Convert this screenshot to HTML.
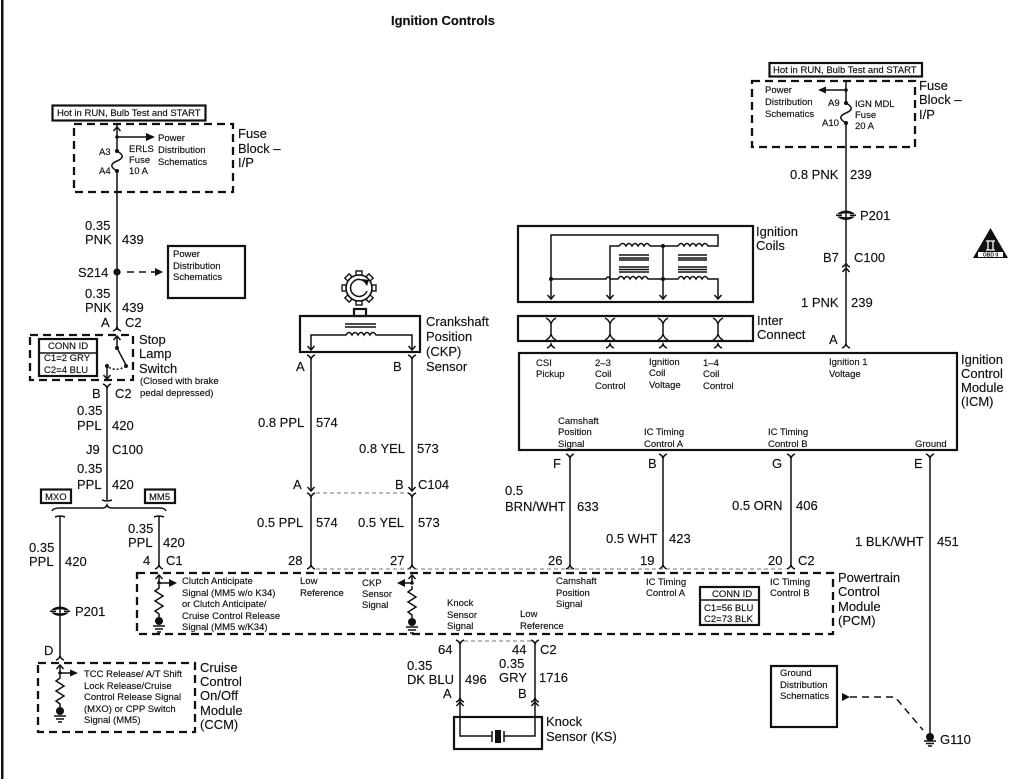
<!DOCTYPE html>
<html><head><meta charset="utf-8"><style>
html,body{margin:0;padding:0;background:#fff}
svg{display:block;filter:blur(.35px)}
text{font-family:"Liberation Sans",sans-serif;fill:#111;stroke:#111;stroke-width:.15px;font-size:13px}
.s text,text.s{font-size:9.5px}
.w{fill:none;stroke:#111;stroke-width:1.5}
.d{fill:none;stroke:#111;stroke-width:2.3;stroke-dasharray:8 5}
.g{fill:none;stroke:#777;stroke-width:1;stroke-dasharray:4 3}
.b{fill:none;stroke:#111;stroke-width:2.2}
</style></head><body>
<svg width="1024" height="779" viewBox="0 0 1024 779" xmlns="http://www.w3.org/2000/svg">
<defs>
<path id="up" class="w" d="M-4,2 Q-1,1 0,-2 Q1,1 4,2"/>
<path id="dn" class="w" d="M-4,-2 Q-1,-1 0,2 Q1,-1 4,-2"/>
<path id="ad" class="w" d="M-3.5,-4 L0,0 L3.5,-4"/>
<path id="au" class="w" d="M-3.5,4 L0,0 L3.5,4"/>
<g id="res"><path class="w" d="M0,0 L0,3 L-4,6 L4,11 L-4,16 L4,21 L-4,26 L0,29 L0,32"/><circle cx="0" cy="36" r="4" fill="#111"/><path class="w" d="M-6,41 H6 M-4,44 H4 M-2,47 H2"/></g>
<g id="p201"><path d="M-9,-1 Q-5,-4.5 0,-4.5 Q5,-4.5 9,-1 L5,-1 Q0,-2.5 -5,-1 Z M-9,1.5 Q-5,5 0,5 Q5,5 9,1.5 L5,1.5 Q0,3 -5,1.5 Z" fill="#111"/><path d="M-10,0.3 H-4 M4,0.3 H10" class="w"/></g>
<path id="fuse" class="w" d="M0,0 C7,4 7,7 0,10 C-7,13 -7,16 0,20"/>
</defs>
<rect x="1" y="0" width="2.5" height="779" fill="#111"/>
<text x="391" y="25" font-weight="bold" style="font-size:13px">Ignition Controls</text>

<!-- left fuse block -->
<rect x="52.5" y="105.5" width="153" height="15" class="b"/>
<text class="s" x="57" y="116">Hot in RUN, Bulb Test and START</text>
<path class="d" d="M74,124 H233 V192 H74 Z"/>
<path class="w" d="M117,125 V150 M117,171 V330"/>
<use href="#au" x="117" y="127"/>
<path class="w" d="M117,137 H148"/><path d="M146,133 L155,137 L146,141 Z" fill="#111"/>
<circle cx="117" cy="137" r="1.8" fill="#111"/><circle cx="117" cy="151" r="2" fill="#111"/><circle cx="117" cy="171" r="2" fill="#111"/>
<use href="#fuse" x="117" y="151"/>
<g class="s"><text x="99" y="155">A3</text><text x="99" y="174">A4</text>
<text x="129" y="152">ERLS</text><text x="129" y="163">Fuse</text><text x="129" y="174">10 A</text>
<text x="158" y="141">Power</text><text x="158" y="153">Distribution</text><text x="158" y="165">Schematics</text></g>
<text x="238" y="138">Fuse</text><text x="238" y="153">Block –</text><text x="238" y="167">I/P</text>
<text x="85" y="230">0.35</text><text x="85" y="244">PNK</text><text x="122" y="244">439</text>
<rect x="168" y="246" width="77" height="52" class="b"/>
<g class="s"><text x="173" y="257">Power</text><text x="173" y="269">Distribution</text><text x="173" y="280">Schematics</text></g>
<text x="78" y="277">S214</text><circle cx="117" cy="272" r="3.6" fill="#111"/>
<path class="w" d="M127,272 H156" stroke-dasharray="7 5"/><path d="M155,268 L163,272 L155,276 Z" fill="#111"/>
<text x="85" y="298">0.35</text><text x="85" y="312">PNK</text><text x="122" y="312">439</text>
<text x="101" y="327">A</text><text x="125" y="327">C2</text>
<use href="#up" x="117" y="329"/>

<!-- stop lamp -->
<path class="d" d="M30,335 H133 V380 H30 Z"/>
<rect x="39" y="339" width="58" height="37" class="b"/><path class="w" d="M39,353 H97"/>
<g class="s"><text x="48" y="349">CONN ID</text><text x="44" y="361">C1=2 GRY</text><text x="44" y="373">C2=4 BLU</text></g>
<use href="#au" x="117" y="336"/>
<path class="w" d="M117,336 V348 L126,365"/><circle cx="117" cy="348" r="2" fill="#111"/><circle cx="126" cy="366" r="2" fill="#111"/>
<path class="w" d="M126,366 Q117,372 108,367" stroke-dasharray="2 2"/>
<circle cx="107" cy="366" r="2" fill="#111"/><path class="w" d="M107,366 V379"/><use href="#ad" x="107" y="379"/>
<text x="139" y="344">Stop</text><text x="139" y="358">Lamp</text><text x="139" y="373">Switch</text>
<text class="s" x="140" y="384">(Closed with brake</text><text class="s" x="140" y="396">pedal depressed)</text>
<use href="#dn" x="107" y="386"/><path class="w" d="M107,388 V500"/>
<text x="92" y="398">B</text><text x="115" y="398">C2</text>
<text x="77" y="415">0.35</text><text x="77" y="430">PPL</text><text x="112" y="430">420</text>
<text x="86" y="454">J9</text><text x="112" y="454">C100</text>
<text x="77" y="473">0.35</text><text x="77" y="489">PPL</text><text x="112" y="489">420</text>

<!-- brace -->
<rect x="41" y="489.5" width="30" height="13.5" class="b"/><text class="s" x="45" y="500">MXO</text>
<rect x="145" y="489.5" width="30" height="13.5" class="b"/><text class="s" x="149" y="500">MM5</text>
<path class="w" d="M102,500 Q107,502 112,500 M52,511 Q53,508 60,508 H102 Q106,508 107,505 Q108,508 112,508 H160 Q165,508 166,511"/>
<path class="w" d="M55,517 Q60,515 65,517 M154,517 Q159,515 164,517 M60,516 V530 M60,530 V657 M159,516 V565"/>
<text x="29" y="552">0.35</text><text x="29" y="566">PPL</text><text x="65" y="566">420</text>
<use href="#p201" x="60" y="611"/><text x="75" y="616">P201</text>
<text x="44" y="655">D</text><use href="#up" x="60" y="658"/>
<text x="128" y="533">0.35</text><text x="128" y="547">PPL</text><text x="163" y="547">420</text>
<text x="143" y="565">4</text><text x="166" y="565">C1</text><use href="#up" x="159" y="567"/>

<!-- CCM -->
<path class="d" d="M38,663 H195 V732 H38 Z"/>
<use href="#au" x="60" y="665"/><path class="w" d="M60,665 V673"/><circle cx="60" cy="673" r="1.8" fill="#111"/>
<path class="w" d="M60,673 H72"/><path d="M70,669.5 L78,673 L70,676.5 Z" fill="#111"/>
<use href="#res" x="60" y="675"/>
<g class="s"><text x="84" y="677">TCC Release/ A/T Shift</text><text x="84" y="689">Lock Release/Cruise</text><text x="84" y="700">Control Release Signal</text><text x="84" y="712">(MXO) or CPP Switch</text><text x="84" y="723">Signal (MM5)</text></g>
<text x="200" y="672">Cruise</text><text x="200" y="686">Control</text><text x="200" y="700">On/Off</text><text x="200" y="715">Module</text><text x="200" y="729">(CCM)</text>

<!-- CKP -->
<g transform="translate(359,288)">
<circle r="13" fill="#fff" stroke="#111" stroke-width="1.6"/>
<g fill="#fff" stroke="#111" stroke-width="1.4"><rect x="-3" y="-17" width="6" height="4" transform="rotate(0)"/><rect x="-3" y="-17" width="6" height="4" transform="rotate(45)"/><rect x="-3" y="-17" width="6" height="4" transform="rotate(90)"/><rect x="-3" y="-17" width="6" height="4" transform="rotate(135)"/><rect x="-3" y="-17" width="6" height="4" transform="rotate(180)"/><rect x="-3" y="-17" width="6" height="4" transform="rotate(225)"/><rect x="-3" y="-17" width="6" height="4" transform="rotate(270)"/><rect x="-3" y="-17" width="6" height="4" transform="rotate(315)"/></g>
<path class="w" d="M7,-5 A8.5,8.5 0 1 0 8,3"/><path d="M3,-9 L10,-8 L8,-2 Z" fill="#111"/>
</g>
<rect x="354" y="309" width="12" height="7" class="b"/>
<rect x="300" y="316" width="120" height="36" class="b"/>
<path class="w" d="M345,324 H376 M345,327 H376"/>
<path class="w" d="M311,350 V335 H346 Q349,330 352,335 Q355,330 358,335 Q361,330 364,335 Q367,330 370,335 Q373,330 376,335 H412 V350"/>
<use href="#ad" x="311" y="350"/><use href="#ad" x="412" y="350"/>
<use href="#dn" x="311" y="357"/><use href="#dn" x="412" y="357"/>
<path class="w" d="M311,359 V490 M311,495 V566 M412,359 V490 M412,495 V566"/>
<use href="#ad" x="311" y="491"/><use href="#dn" x="311" y="495"/><use href="#ad" x="412" y="491"/><use href="#dn" x="412" y="495"/>
<path class="g" d="M316,493 H408"/>
<text x="426" y="326">Crankshaft</text><text x="426" y="341">Position</text><text x="426" y="356">(CKP)</text><text x="426" y="371">Sensor</text>
<text x="296" y="371">A</text><text x="393" y="371">B</text>
<text x="258" y="427">0.8 PPL</text><text x="316" y="427">574</text>
<text x="359" y="453">0.8 YEL</text><text x="417" y="453">573</text>
<text x="293" y="489">A</text><text x="395" y="489">B</text><text x="418" y="489">C104</text>
<text x="257" y="527">0.5 PPL</text><text x="316" y="527">574</text>
<text x="358" y="527">0.5 YEL</text><text x="418" y="527">573</text>
<text x="288" y="565">28</text><text x="390" y="565">27</text>
<use href="#up" x="311" y="567"/><use href="#up" x="412" y="567"/>

<!-- coils -->
<rect x="518" y="226" width="235" height="76" class="b"/>
<path class="w" d="M551,298 V235 H718 V246 H708 Q705,241 702,246 Q699,241 696,246 Q693,241 690,246 Q687,241 684,246 Q681,241 678,246 H663 H650 Q647,241 644,246 Q641,241 638,246 Q635,241 632,246 Q629,241 626,246 Q623,241 619,246 H610 V298"/>
<path class="w" d="M663,246 V298"/>
<path class="w" d="M551,279 H606 Q608,275 610,279 H618 Q621,274 624,279 Q627,274 630,279 Q633,274 636,279 Q639,274 642,279 Q645,274 648,279 H678 Q681,274 684,279 Q687,274 690,279 Q693,274 696,279 Q699,274 702,279 Q705,274 708,279 H718 V298"/>
<path class="w" d="M619,255 H649 M619,258 H649 M619,260 H649 M619,267 H649 M619,269.5 H649 M619,272 H649 M678,255 H707 M678,258 H707 M678,260 H707 M678,267 H707 M678,269.5 H707 M678,272 H707"/>
<circle cx="551" cy="279" r="2" fill="#111"/><circle cx="663" cy="246" r="2" fill="#111"/><circle cx="663" cy="279" r="2" fill="#111"/>
<use href="#ad" x="551" y="299"/><use href="#ad" x="610" y="299"/><use href="#ad" x="663" y="299"/><use href="#ad" x="718" y="299"/>
<text x="756" y="236">Ignition</text><text x="756" y="250">Coils</text>
<rect x="518" y="316" width="235" height="25" class="b"/>
<g class="w"><path d="M546,318 Q550,320 551,324 Q552,320 556,318 M551,324 V335 M546,340 Q550,338 551,334 Q552,338 556,340"/>
<path d="M605,318 Q609,320 610,324 Q611,320 615,318 M610,324 V335 M605,340 Q609,338 610,334 Q611,338 615,340"/>
<path d="M658,318 Q662,320 663,324 Q664,320 668,318 M663,324 V335 M658,340 Q662,338 663,334 Q664,338 668,340"/>
<path d="M713,318 Q717,320 718,324 Q719,320 723,318 M718,324 V335 M713,340 Q717,338 718,334 Q719,338 723,340"/></g>
<use href="#up" x="551" y="346"/><use href="#up" x="610" y="346"/><use href="#up" x="663" y="346"/><use href="#up" x="718" y="346"/>
<text x="757" y="325">Inter</text><text x="757" y="339">Connect</text>

<!-- ICM -->
<rect x="519" y="353" width="438" height="97" class="b"/>
<g class="s">
<text x="536" y="366">CSI</text><text x="536" y="377">Pickup</text>
<text x="595" y="366">2–3</text><text x="595" y="377">Coil</text><text x="595" y="389">Control</text>
<text x="649" y="365">Ignition</text><text x="649" y="376">Coil</text><text x="649" y="388">Voltage</text>
<text x="703" y="366">1–4</text><text x="703" y="377">Coil</text><text x="703" y="389">Control</text>
<text x="829" y="365">Ignition 1</text><text x="829" y="377">Voltage</text>
<text x="558" y="424">Camshaft</text><text x="558" y="435">Position</text><text x="558" y="447">Signal</text>
<text x="644" y="435">IC Timing</text><text x="644" y="447">Control A</text>
<text x="768" y="435">IC Timing</text><text x="768" y="447">Control B</text>
<text x="915" y="447">Ground</text>
</g>
<text x="961" y="364">Ignition</text><text x="961" y="378">Control</text><text x="961" y="392">Module</text><text x="961" y="406">(ICM)</text>
<use href="#dn" x="570" y="456"/><use href="#dn" x="663" y="456"/><use href="#dn" x="791" y="456"/><use href="#dn" x="930" y="456"/>
<path class="w" d="M570,458 V566 M663,458 V566 M791,458 V566 M930,458 V737"/>
<text x="553" y="468">F</text><text x="648" y="468">B</text><text x="772" y="468">G</text><text x="914" y="468">E</text>
<text x="505" y="495">0.5</text><text x="505" y="511">BRN/WHT</text><text x="577" y="511">633</text>
<text x="606" y="543">0.5 WHT</text><text x="669" y="543">423</text>
<text x="732" y="510">0.5 ORN</text><text x="796" y="510">406</text>
<text x="855" y="546">1 BLK/WHT</text><text x="937" y="546">451</text>
<text x="548" y="565">26</text><text x="640" y="565">19</text><text x="768" y="565">20</text><text x="798" y="565">C2</text>
<use href="#up" x="570" y="567"/><use href="#up" x="663" y="567"/><use href="#up" x="791" y="567"/>
<path class="g" d="M316,569 H786"/>

<!-- PCM -->
<path class="d" d="M137,573 H833 V634 H137 Z"/>
<use href="#au" x="159" y="575"/><path class="w" d="M159,575 V583 H170"/><circle cx="159" cy="583" r="1.8" fill="#111"/><path d="M169,579 L177,583 L169,587 Z" fill="#111"/>
<use href="#res" x="159" y="585"/>
<g class="s"><text x="182" y="584">Clutch Anticipate</text><text x="182" y="596">Signal (MM5 w/o K34)</text><text x="182" y="607">or Clutch Anticipate/</text><text x="182" y="619">Cruise Control Release</text><text x="182" y="630">Signal (MM5 w/K34)</text>
<text x="300" y="584">Low</text><text x="300" y="596">Reference</text>
<text x="362" y="586">CKP</text><text x="362" y="597">Sensor</text><text x="362" y="608">Signal</text>
<text x="447" y="606">Knock</text><text x="447" y="618">Sensor</text><text x="447" y="629">Signal</text>
<text x="520" y="617">Low</text><text x="520" y="629">Reference</text>
<text x="556" y="584">Camshaft</text><text x="556" y="596">Position</text><text x="556" y="607">Signal</text>
<text x="646" y="585">IC Timing</text><text x="646" y="596">Control A</text>
<text x="770" y="585">IC Timing</text><text x="770" y="596">Control B</text></g>
<use href="#au" x="412" y="575"/><path class="w" d="M412,575 V583 H404"/><circle cx="412" cy="583" r="1.8" fill="#111"/><path d="M405,579 L397,583 L405,587 Z" fill="#111"/>
<use href="#res" x="412" y="586"/>
<rect x="700" y="587" width="59" height="38" class="b"/><path class="w" d="M700,600 H759"/>
<g class="s"><text x="712" y="597">CONN ID</text><text x="704" y="611">C1=56 BLU</text><text x="704" y="622">C2=73 BLK</text></g>
<text x="838" y="582">Powertrain</text><text x="838" y="596">Control</text><text x="838" y="611">Module</text><text x="838" y="625">(PCM)</text>

<!-- knock -->
<use href="#dn" x="460" y="642"/><use href="#dn" x="535" y="642"/>
<path class="g" d="M464,641 H531"/>
<path class="w" d="M460,644 V736 H492 M535,644 V736 H504 M492,731 V742 M504,731 V742"/>
<rect x="495" y="730" width="6" height="13" fill="#111"/>
<use href="#up" x="460" y="700"/><use href="#au" x="460" y="702"/><use href="#up" x="535" y="700"/><use href="#au" x="535" y="702"/>
<rect x="454" y="717" width="88" height="32" class="b"/>
<text x="438" y="654">64</text><text x="512" y="654">44</text><text x="540" y="654">C2</text>
<text x="407" y="670">0.35</text><text x="407" y="684">DK BLU</text><text x="465" y="684">496</text>
<text x="499" y="668">0.35</text><text x="499" y="682">GRY</text><text x="539" y="682">1716</text>
<text x="443" y="698">A</text><text x="518" y="698">B</text>
<text x="546" y="726">Knock</text><text x="546" y="741">Sensor (KS)</text>

<!-- ground -->
<rect x="771" y="666" width="66" height="61" class="b"/>
<g class="s"><text x="780" y="676">Ground</text><text x="780" y="688">Distribution</text><text x="780" y="699">Schematics</text></g>
<path d="M842,693 L842,701 L850,697 Z" fill="#111"/>
<path class="w" d="M850,697 H895 L923,730" stroke-dasharray="7 5"/>
<circle cx="930" cy="737" r="4" fill="#111"/><path class="w" d="M924,741 H936 M926,743.5 H934 M928,746 H932"/>
<text x="940" y="744">G110</text>

<!-- right fuse block -->
<rect x="769.5" y="63" width="152.5" height="13.5" class="b"/>
<text class="s" x="773" y="73">Hot in RUN, Bulb Test and START</text>
<path class="d" d="M752,81 H915 V147 H752 Z"/>
<path class="w" d="M846,80 V103 M846,123 V262 M846,265 V346"/>
<circle cx="846" cy="90" r="1.8" fill="#111"/><path class="w" d="M846,90 H825"/><path d="M826,86.5 L818,90 L826,93.5 Z" fill="#111"/>
<circle cx="846" cy="103" r="2" fill="#111"/><circle cx="846" cy="123" r="2" fill="#111"/>
<use href="#fuse" x="846" y="103"/>
<g class="s"><text x="765" y="93">Power</text><text x="765" y="105">Distribution</text><text x="765" y="117">Schematics</text>
<text x="828" y="106">A9</text><text x="822" y="126">A10</text>
<text x="855" y="107">IGN MDL</text><text x="855" y="118">Fuse</text><text x="855" y="129">20 A</text></g>
<text x="919" y="90">Fuse</text><text x="919" y="104">Block –</text><text x="919" y="119">I/P</text>
<text x="790" y="179">0.8 PNK</text><text x="850" y="179">239</text>
<use href="#p201" x="846" y="215"/><text x="860" y="220">P201</text>
<text x="823" y="262">B7</text><text x="854" y="262">C100</text>
<use href="#up" x="846" y="265"/><use href="#au" x="846" y="268"/>
<text x="801" y="307">1 PNK</text><text x="851" y="307">239</text>
<text x="829" y="344">A</text><use href="#up" x="846" y="346"/>

<!-- OBD -->
<path d="M990.5,228 L1008,258 H973 Z" fill="#111"/>
<path d="M986,241 H995 M986,250 H995 M988,241 V250 M993,241 V250" stroke="#fff" stroke-width="1.3" fill="none"/>
<rect x="978" y="252" width="25" height="5" fill="#fff"/>
<text x="990.5" y="256.5" text-anchor="middle" font-weight="bold" style="font-size:5px;stroke:none">OBD II</text>
</svg>
</body></html>
